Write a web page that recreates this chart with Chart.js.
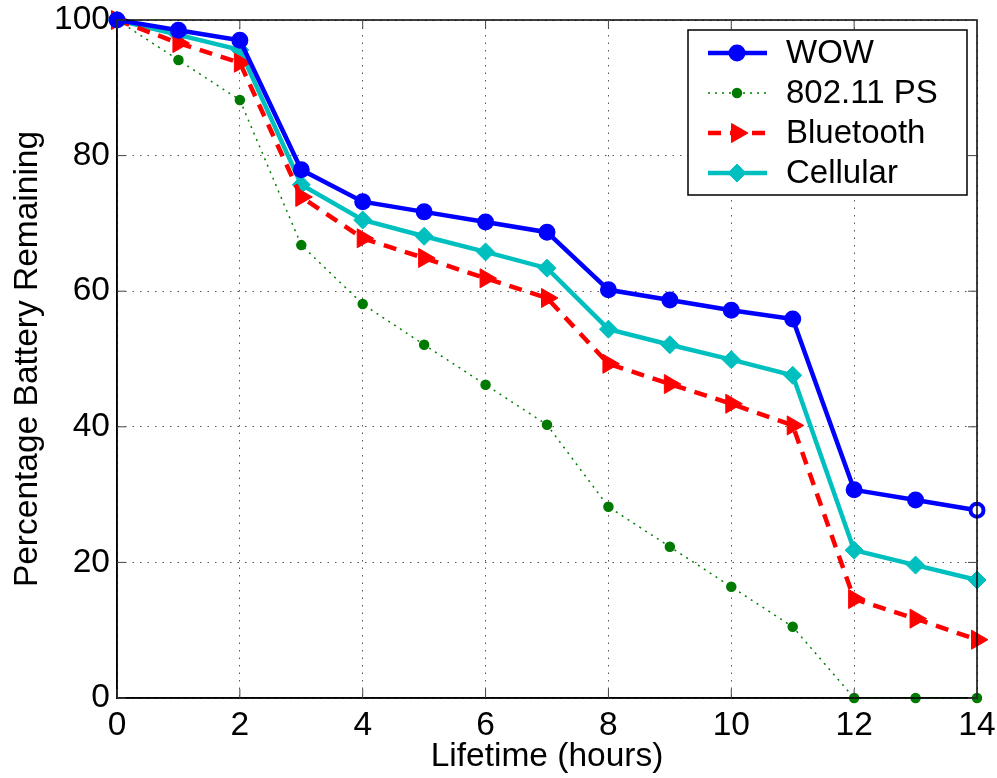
<!DOCTYPE html>
<html>
<head>
<meta charset="utf-8">
<script src="https://cdn.jsdelivr.net/npm/chart.js@4/dist/chart.umd.min.js"></script>
<style>
  html, body { margin: 0; padding: 0; background: #fff; }
  #wrap { width: 997px; height: 778px; position: relative; }
</style>
</head>
<body>
<div id="wrap"><canvas id="chart"></canvas></div>
<script>
const hours = [0, 1, 2, 3, 4, 5, 6, 7, 8, 9, 10, 11, 12, 13, 14];
const wow = [100, 98.5, 97.0, 77.9, 73.2, 71.7, 70.2, 68.7, 60.2, 58.7, 57.2, 55.9, 30.7, 29.2, 27.7];
const ps80211 = [100, 94.1, 88.2, 66.8, 58.1, 52.1, 46.2, 40.3, 28.2, 22.3, 16.4, 10.5, 0, 0, 0];
const bluetooth = [100, 96.6, 93.7, 73.9, 67.8, 64.9, 61.9, 59.0, 49.3, 46.3, 43.4, 40.2, 14.6, 11.7, 8.6];
const cellular = [100, 97.8, 95.6, 75.7, 70.5, 68.1, 65.8, 63.4, 54.4, 52.1, 49.9, 47.6, 21.8, 19.6, 17.4];
const seriesNames = ['WOW', '802.11 PS', 'Bluetooth', 'Cellular'];
const xTicks = [0, 2, 4, 6, 8, 10, 12, 14];
const yTicks = [0, 20, 40, 60, 80, 100];

const FONT = '"Liberation Sans", Arial, Helvetica, sans-serif';
const GRID_DASH = [1.5, 6];

function pts(values) {
    return hours.map((h, i) => ({ x: h, y: values[i] }));
}

// MATLAB-like box with inward ticks on all four sides
const boxPlugin = {
    id: 'box',
    afterDatasetsDraw(chart) {
        const { ctx, chartArea: a, scales } = chart;
        ctx.save();
        ctx.strokeStyle = '#000';
        ctx.lineWidth = 1.5;
        ctx.strokeRect(a.left, a.top, a.right - a.left, a.bottom - a.top);
        ctx.lineWidth = 1;
        ctx.strokeStyle = '#444';
        const tl = 9;
        xTicks.forEach(v => {
            const x = scales.x.getPixelForValue(v);
            ctx.beginPath();
            ctx.moveTo(x, a.bottom); ctx.lineTo(x, a.bottom - tl);
            ctx.moveTo(x, a.top); ctx.lineTo(x, a.top + tl);
            ctx.stroke();
        });
        yTicks.forEach(v => {
            const y = scales.y.getPixelForValue(v);
            ctx.beginPath();
            ctx.moveTo(a.left, y); ctx.lineTo(a.left + tl, y);
            ctx.moveTo(a.right, y); ctx.lineTo(a.right - tl, y);
            ctx.stroke();
        });
        ctx.restore();
    }
};

// legend box inside the plot, top right
const legendPlugin = {
    id: 'innerLegend',
    afterDraw(chart) {
        const { ctx } = chart;
        const left = 688, top = 30, w = 279, h = 165;
        ctx.save();
        ctx.fillStyle = '#fff';
        ctx.fillRect(left, top, w, h);
        ctx.strokeStyle = '#000';
        ctx.lineWidth = 1.5;
        ctx.strokeRect(left, top, w, h);
        chart.data.datasets.forEach((ds, i) => {
            const y = top + 23 + i * 40;
            ctx.beginPath();
            ctx.strokeStyle = ds.borderColor;
            ctx.lineWidth = ds.borderWidth;
            ctx.setLineDash(ds.borderDash || []);
            ctx.moveTo(708, y);
            ctx.lineTo(767, y);
            ctx.stroke();
            ctx.setLineDash([]);
            const bg = ds.pointBackgroundColor;
            ctx.fillStyle = Array.isArray(bg) ? bg[0] : bg;
            ctx.strokeStyle = ds.pointBorderColor;
            ctx.lineWidth = ds.pointBorderWidth;
            Chart.helpers.drawPoint(ctx, {
                pointStyle: ds.pointStyle,
                rotation: ds.pointRotation || 0,
                radius: ds.pointRadius,
                borderWidth: ds.pointBorderWidth
            }, 737, y);
            ctx.fillStyle = '#000';
            ctx.font = '33px ' + FONT;
            ctx.textBaseline = 'middle';
            ctx.fillText(ds.label, 786, y + 1);
        });
        ctx.restore();
    }
};

const ctx = document.getElementById('chart');
new Chart(ctx, {
    type: 'line',
    data: {
        datasets: [
            {
                label: seriesNames[0],
                data: pts(wow),
                borderColor: '#0000ff',
                borderWidth: 4.5,
                pointStyle: 'circle',
                pointRadius: 6.5,
                // the line runs through the open circles, only the last one shows its hole
                pointBackgroundColor: hours.map((h, i) => i === hours.length - 1 ? '#ffffff' : '#0000ff'),
                pointBorderColor: '#0000ff',
                pointBorderWidth: 4,
                clip: false
            },
            {
                label: seriesNames[1],
                data: pts(ps80211),
                borderColor: '#008000',
                borderWidth: 1.5,
                borderDash: [2, 5],
                pointStyle: 'circle',
                pointRadius: 4.5,
                pointBackgroundColor: '#007a00',
                pointBorderColor: '#007a00',
                pointBorderWidth: 1.5,
                clip: false
            },
            {
                label: seriesNames[2],
                data: pts(bluetooth),
                borderColor: '#ff0000',
                borderWidth: 4.5,
                borderDash: [13, 9],
                pointStyle: 'triangle',
                pointRotation: 90,
                pointRadius: 11,
                pointBackgroundColor: '#ff0000',
                pointBorderColor: '#ff0000',
                pointBorderWidth: 1,
                clip: false
            },
            {
                label: seriesNames[3],
                data: pts(cellular),
                borderColor: '#00bfbf',
                borderWidth: 4.5,
                pointStyle: 'rectRot',
                pointRadius: 9,
                pointBackgroundColor: '#00bfbf',
                pointBorderColor: '#00bfbf',
                pointBorderWidth: 1,
                clip: false
            }
        ]
    },
    options: {
        responsive: true,
        maintainAspectRatio: false,
        animation: false,
        layout: { padding: { top: 20, right: 20, left: 0, bottom: 0 } },
        elements: { line: { tension: 0, fill: false } },
        scales: {
            x: {
                type: 'linear',
                min: 0,
                max: 14,
                afterFit(scale) {
                    scale.height = 80;
                    scale.paddingLeft = 0;
                    scale.paddingRight = 0;
                },
                afterBuildTicks(scale) { scale.ticks = xTicks.map(v => ({ value: v })); },
                ticks: {
                    color: '#000',
                    font: { family: FONT, size: 33.5 },
                    padding: 8,
                    maxRotation: 0
                },
                grid: {
                    color: '#555',
                    lineWidth: 1,
                    drawTicks: false
                },
                border: { display: true, color: '#000', width: 1.5, dash: GRID_DASH },
                title: {
                    display: true,
                    text: 'Lifetime (hours)',
                    color: '#000',
                    font: { family: FONT, size: 33.5 },
                    padding: { top: 0, bottom: 1 }
                }
            },
            y: {
                min: 0,
                max: 100,
                afterFit(scale) {
                    scale.width = 117;
                    scale.paddingTop = 0;
                    scale.paddingBottom = 0;
                },
                afterBuildTicks(scale) { scale.ticks = yTicks.map(v => ({ value: v })); },
                ticks: {
                    color: '#000',
                    font: { family: FONT, size: 33.5 },
                    padding: 7
                },
                grid: {
                    color: '#555',
                    lineWidth: 1,
                    drawTicks: false
                },
                border: { display: true, color: '#000', width: 1.5, dash: GRID_DASH },
                title: {
                    display: true,
                    text: 'Percentage Battery Remaining',
                    color: '#000',
                    font: { family: FONT, size: 33.5 },
                    padding: { top: 8, bottom: 0 }
                }
            }
        },
        plugins: {
            legend: { display: false },
            tooltip: { enabled: false }
        }
    },
    plugins: [boxPlugin, legendPlugin]
});
</script>
</body>
</html>
